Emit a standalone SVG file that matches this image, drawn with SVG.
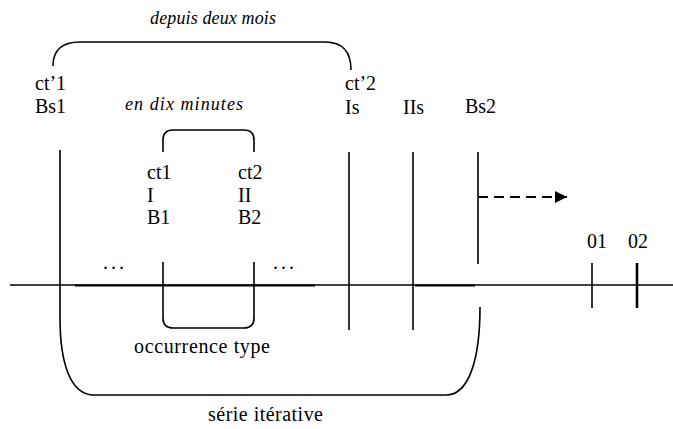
<svg xmlns="http://www.w3.org/2000/svg" width="673" height="429" viewBox="0 0 673 429">
<defs>
<style>
.t{font-family:"Liberation Serif","Times New Roman",serif;font-size:20px;fill:#000}
.i{font-family:"Liberation Serif","Times New Roman",serif;font-size:18px;font-style:italic;fill:#000}
.ln{stroke:#000;stroke-width:1.6;fill:none}
.bk{stroke:#000;stroke-width:1.6;fill:none}
</style>
<marker id="ah" viewBox="0 0 10 10" refX="10" refY="5" markerWidth="15" markerHeight="12" markerUnits="userSpaceOnUse" orient="auto">
<path d="M0,0 L10,5 L0,10 z" fill="#000"/>
</marker>
</defs>
<rect width="673" height="429" fill="#fff"/>

<g id="timeline">
<line class="ln" x1="10" y1="285" x2="673" y2="285"/>
<line x1="75" y1="285.5" x2="315" y2="285.5" stroke="#000" stroke-width="2"/>
<line x1="415" y1="285.5" x2="475" y2="285.5" stroke="#000" stroke-width="2"/>
</g>

<g id="bracket-depuis">
<path class="bk" d="M53,66 C53,50 62,42 80,42 L325,42 C343,42 351,52 351,70"/>
<text class="i" x="150" y="24" textLength="126">depuis deux mois</text>
</g>

<g id="bracket-dix">
<path class="bk" d="M163,152 L163,140 Q163,130 173,130 L244,130 Q254,130 254,140 L254,152"/>
<text class="i" x="125" y="110" textLength="118">en dix minutes</text>
</g>

<g id="node-ct1">
<text class="t" x="35" y="90">ct’1</text>
<text class="t" x="35" y="113">Bs1</text>
</g>

<g id="node-ct2">
<text class="t" x="345" y="90">ct’2</text>
<text class="t" x="345" y="114">Is</text>
</g>

<g id="node-IIs">
<text class="t" x="403" y="114">IIs</text>
</g>

<g id="node-Bs2">
<text class="t" x="465" y="113">Bs2</text>
</g>

<g id="node-occ1">
<text class="t" x="147" y="179">ct1</text>
<text class="t" x="147" y="202">I</text>
<text class="t" x="147" y="224">B1</text>
</g>

<g id="node-occ2">
<text class="t" x="238" y="179">ct2</text>
<text class="t" x="238" y="202">II</text>
<text class="t" x="238" y="224">B2</text>
</g>

<g id="dots">
<text class="t" x="103" y="269" font-size="16" letter-spacing="3">...</text>
<text class="t" x="273" y="269" font-size="16" letter-spacing="3">...</text>
</g>

<g id="bracket-occurrence">
<path class="bk" d="M163,262 L163,318 Q163,328 173,328 L244,328 Q254,328 254,318 L254,262"/>
<text class="t" x="134" y="353" textLength="136">occurrence type</text>
</g>

<g id="bracket-serie">
<path class="bk" d="M60,150 L60,318 C60,362 70,395 94,395 L446,395 C468,395 480,362 480,307"/>
<text class="t" x="208" y="421" textLength="115">série itérative</text>
</g>

<g id="verticals">
<line class="ln" x1="349" y1="152" x2="349" y2="330"/>
<line class="ln" x1="413" y1="152" x2="413" y2="330" stroke-width="2"/>
<line class="ln" x1="478" y1="152" x2="478" y2="264"/>
</g>

<g id="connectors">
<line x1="478" y1="197" x2="567" y2="197" stroke="#000" stroke-width="2" stroke-dasharray="10,6" marker-end="url(#ah)"/>
</g>

<g id="node-o1">
<line class="ln" x1="592" y1="263" x2="592" y2="308"/>
<text class="t" x="587" y="248">01</text>
</g>
<g id="node-o2">
<line x1="637" y1="263" x2="637" y2="308" stroke="#000" stroke-width="2.6"/>
<text class="t" x="628" y="248">02</text>
</g>
</svg>
